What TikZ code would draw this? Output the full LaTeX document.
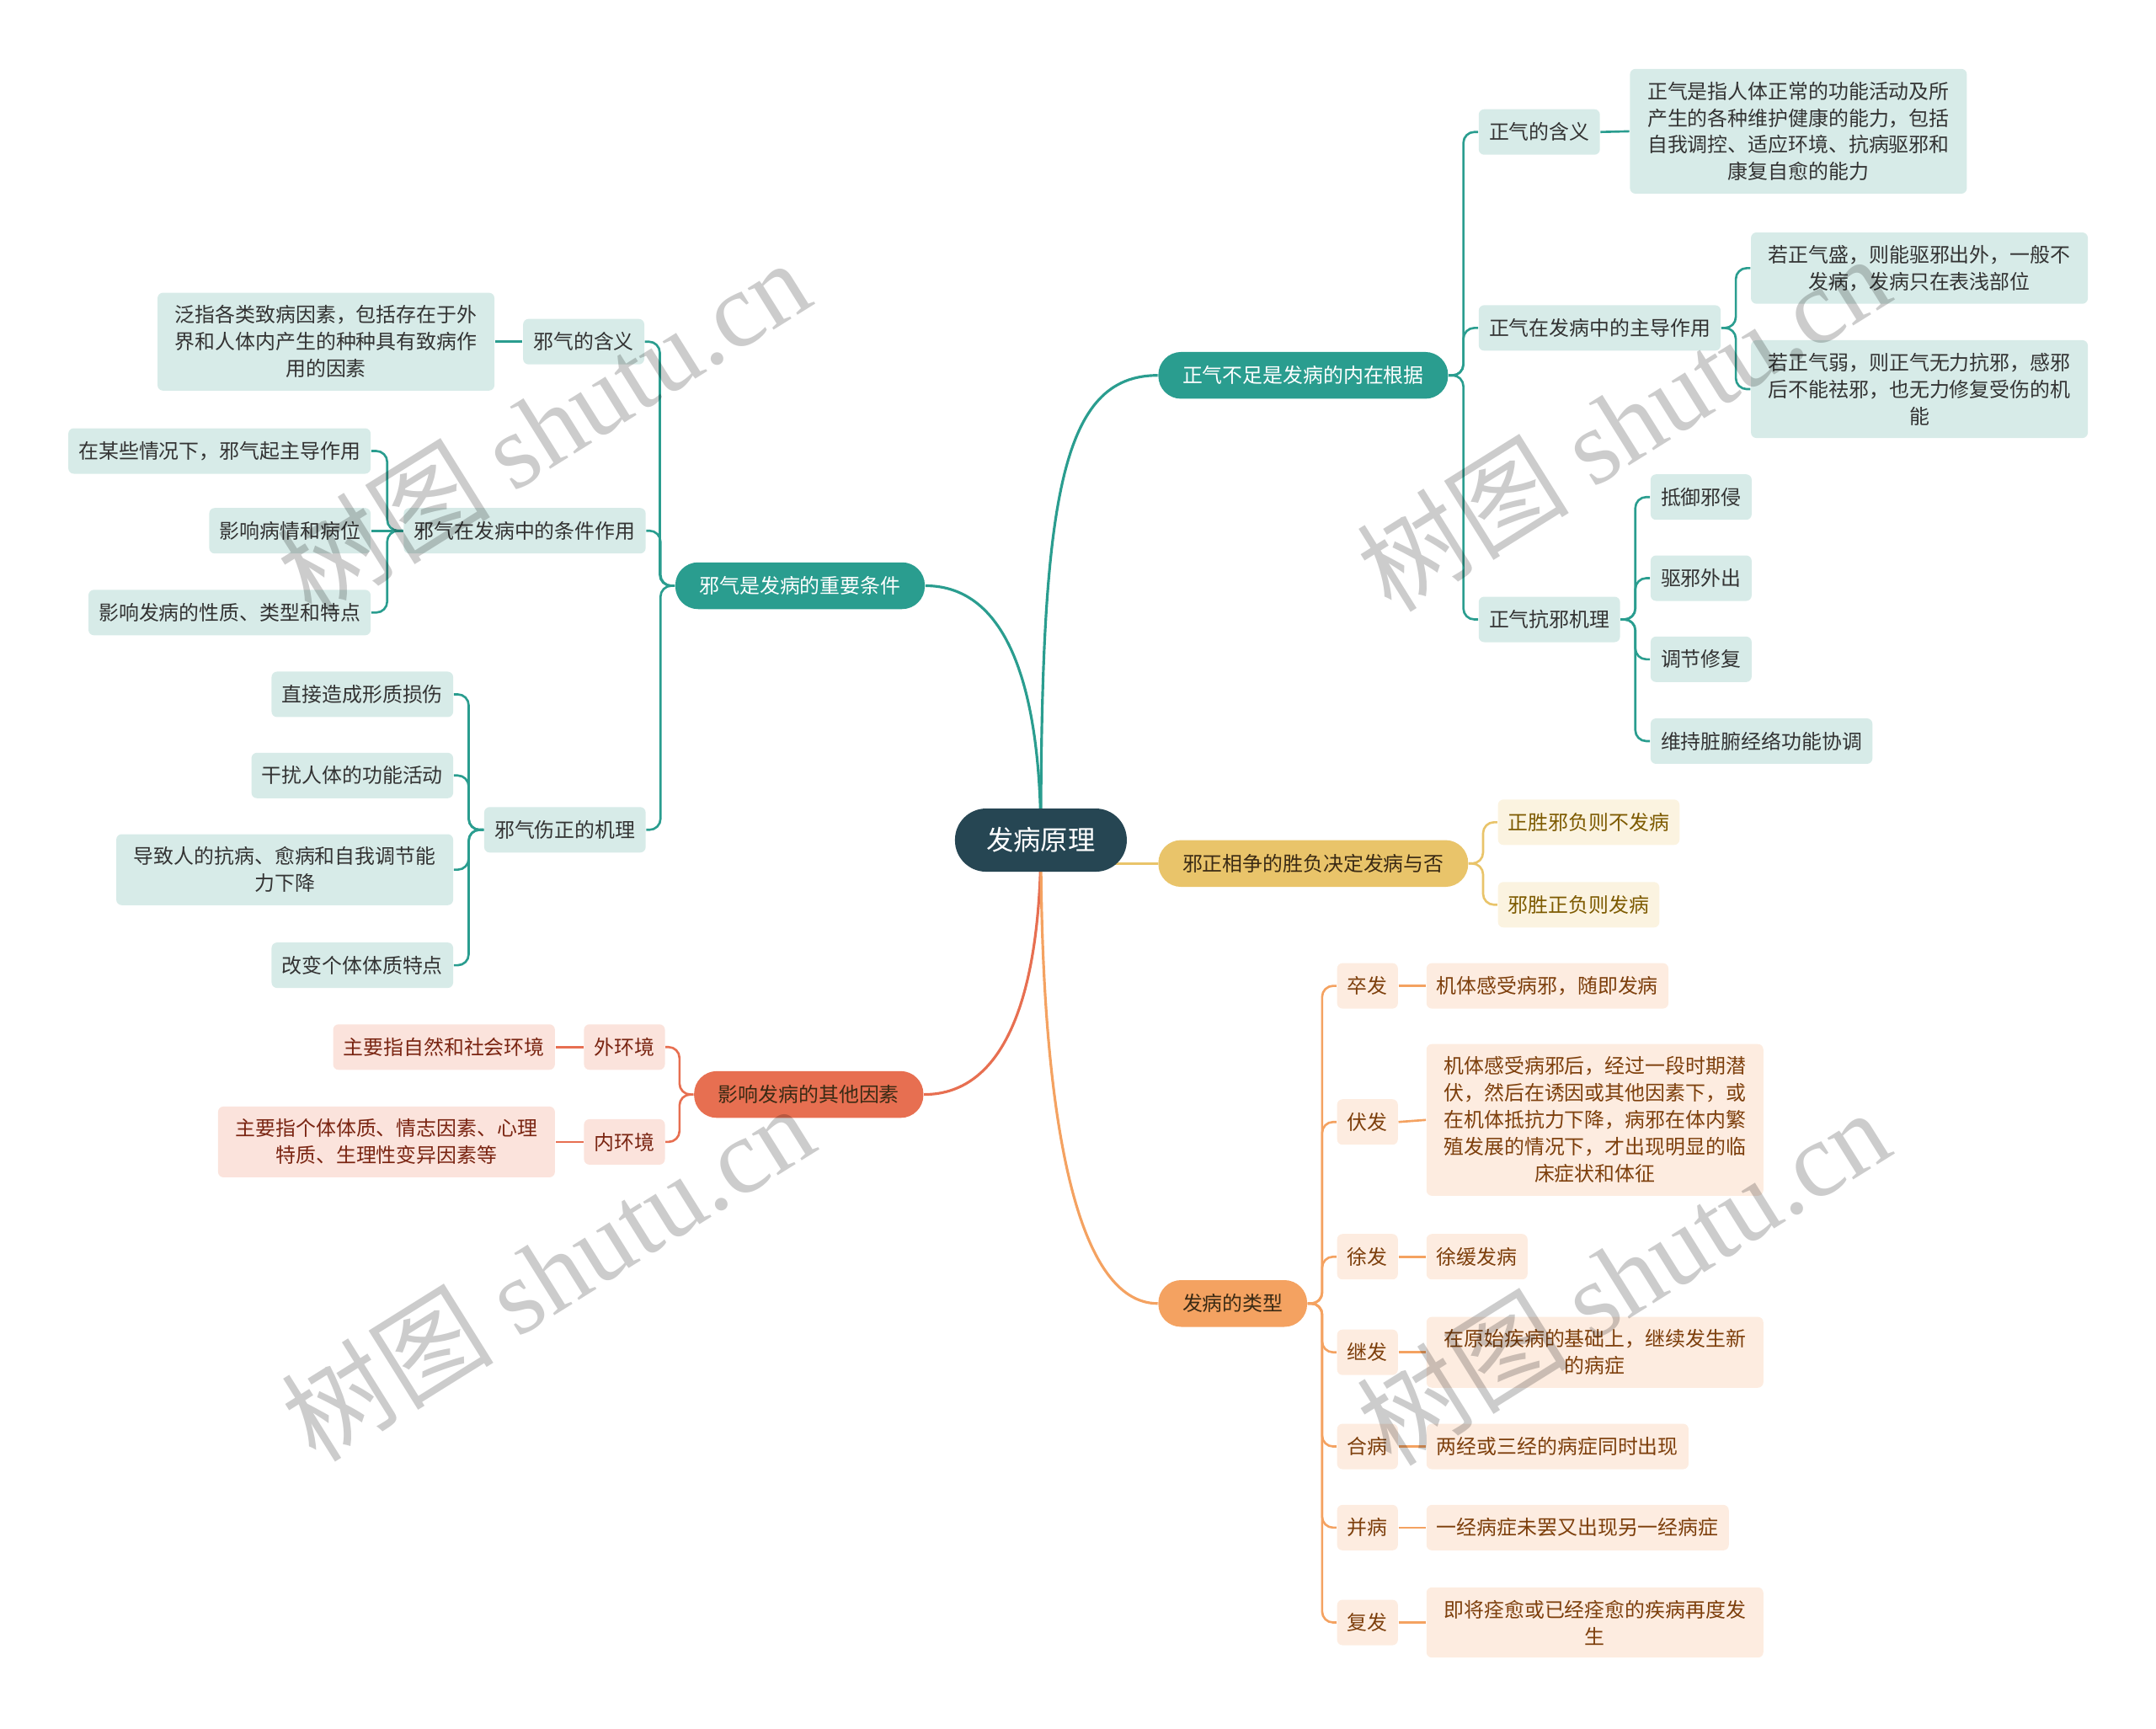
\documentclass[tikz,border=0pt]{standalone}
\usepackage{fontspec}
\setmainfont{Noto Sans CJK SC}
\newfontfamily\wmfont{Liberation Serif}
\usepackage{tikz}
\usetikzlibrary{positioning,calc,backgrounds}
\definecolor{rootc}{HTML}{264653}
\definecolor{tealc}{HTML}{2A9D8F}
\definecolor{tealsoft}{HTML}{D7EBE8}
\definecolor{yelc}{HTML}{E9C46A}
\definecolor{yelsoft}{HTML}{FBF3E0}
\definecolor{yeltext}{HTML}{7D5A00}
\definecolor{orac}{HTML}{F4A261}
\definecolor{orasoft}{HTML}{FDECE0}
\definecolor{oratext}{HTML}{7D3F0C}
\definecolor{redc}{HTML}{E76F51}
\definecolor{redsoft}{HTML}{FBE3DC}
\definecolor{redtext}{HTML}{7A2512}
\definecolor{darktext}{HTML}{3A2A14}

\begin{document}
\begin{tikzpicture}[
  x=0.016327cm, y=-0.016327cm,
  every node/.style={font=\fontsize{6.8}{9.1}\selectfont, align=center},
  rootbox/.style={fill=rootc, text=white, rounded corners=0.37cm, minimum height=0.75cm,
                  minimum width=2.04cm, font=\fontsize{9.2}{11}\selectfont},
  mainbox/.style={rounded corners=0.27cm, minimum height=0.555cm, inner xsep=0.286cm},
  subbox/.style={rounded corners=0.065cm, minimum height=0.54cm, inner xsep=0.122cm, inner ysep=0.15cm},
  widebox/.style={subbox, minimum width=4cm},
  tealsub/.style={fill=tealsoft, text=black!80},
  yelsub/.style={fill=yelsoft, text=yeltext},
  orasub/.style={fill=orasoft, text=oratext},
  redsub/.style={fill=redsoft, text=redtext},
  mainln/.style={line width=0.9pt},
  ln/.style={line width=0.75pt, rounded corners=0.13cm},
  wm/.style={text=black, opacity=0.2, rotate=32, font=\fontsize{36}{40}\selectfont}
]
\useasboundingbox (0,0) rectangle (1568,1257);

% root and main branches
\node[rootbox] (root) at (757,611) {发病原理};
\node[mainbox, fill=tealc, text=white, anchor=west] (b1) at (842,273) {正气不足是发病的内在根据};
\node[mainbox, fill=tealc, text=white, anchor=east] (b2) at (673,426) {邪气是发病的重要条件};
\node[mainbox, fill=yelc, text=darktext, anchor=west] (b3) at (842,628) {邪正相争的胜负决定发病与否};
\node[mainbox, fill=redc, text=darktext, anchor=east] (b4) at (672,796) {影响发病的其他因素};
\node[mainbox, fill=orac, text=darktext, anchor=west] (b5) at (842,948) {发病的类型};

% 正气
\node[subbox, tealsub, anchor=west] (s11) at (1075,96) {正气的含义};
\node[subbox, tealsub, anchor=west] (s12) at (1075,238.5) {正气在发病中的主导作用};
\node[subbox, tealsub, anchor=west] (s13) at (1075,450.5) {正气抗邪机理};
\node[widebox, tealsub, anchor=west] (l111) at (1185,95.5) {正气是指人体正常的功能活动及所\\产生的各种维护健康的能力，包括\\自我调控、适应环境、抗病驱邪和\\康复自愈的能力};
\node[widebox, tealsub, anchor=west] (l121) at (1273,195) {若正气盛，则能驱邪出外，一般不\\发病，发病只在表浅部位};
\node[widebox, tealsub, anchor=west] (l122) at (1273,283) {若正气弱，则正气无力抗邪，感邪\\后不能祛邪，也无力修复受伤的机\\能};
\node[subbox, tealsub, anchor=west] (l131) at (1200,361.5) {抵御邪侵};
\node[subbox, tealsub, anchor=west] (l132) at (1200,420.5) {驱邪外出};
\node[subbox, tealsub, anchor=west] (l133) at (1200,479.5) {调节修复};
\node[subbox, tealsub, anchor=west] (l134) at (1200,539) {维持脏腑经络功能协调};

% 邪气
\node[subbox, tealsub, anchor=east] (s21) at (469,248.5) {邪气的含义};
\node[subbox, tealsub, anchor=east] (s22) at (470,386) {邪气在发病中的条件作用};
\node[subbox, tealsub, anchor=east] (s23) at (470,603.5) {邪气伤正的机理};
\node[widebox, tealsub, anchor=east] (l211) at (360,248.5) {泛指各类致病因素，包括存在于外\\界和人体内产生的种种具有致病作\\用的因素};
\node[subbox, tealsub, anchor=east] (l221) at (270,328) {在某些情况下，邪气起主导作用};
\node[subbox, tealsub, anchor=east] (l222) at (270,386) {影响病情和病位};
\node[subbox, tealsub, anchor=east] (l223) at (270,445.5) {影响发病的性质、类型和特点};
\node[subbox, tealsub, anchor=east] (l231) at (330,505) {直接造成形质损伤};
\node[subbox, tealsub, anchor=east] (l232) at (330,564) {干扰人体的功能活动};
\node[widebox, tealsub, anchor=east] (l233) at (330,632.5) {导致人的抗病、愈病和自我调节能\\力下降};
\node[subbox, tealsub, anchor=east] (l234) at (330,702) {改变个体体质特点};

% 邪正相争
\node[subbox, yelsub, anchor=west] (s31) at (1089,598) {正胜邪负则不发病};
\node[subbox, yelsub, anchor=west] (s32) at (1089,658) {邪胜正负则发病};

% 其他因素
\node[subbox, redsub, anchor=east] (s41) at (484,761.5) {外环境};
\node[subbox, redsub, anchor=east] (s42) at (484,830.5) {内环境};
\node[subbox, redsub, anchor=east] (l411) at (404,761.5) {主要指自然和社会环境};
\node[widebox, redsub, anchor=east] (l421) at (404,830.5) {主要指个体体质、情志因素、心理\\特质、生理性变异因素等};

% 发病的类型
\node[subbox, orasub, anchor=west] (s51) at (972,717) {卒发};
\node[subbox, orasub, anchor=west] (s52) at (972,816) {伏发};
\node[subbox, orasub, anchor=west] (s53) at (972,914) {徐发};
\node[subbox, orasub, anchor=west] (s54) at (972,983.5) {继发};
\node[subbox, orasub, anchor=west] (s55) at (972,1052) {合病};
\node[subbox, orasub, anchor=west] (s56) at (972,1111) {并病};
\node[subbox, orasub, anchor=west] (s57) at (972,1180) {复发};
\node[subbox, orasub, anchor=west] (l51) at (1037,717) {机体感受病邪，随即发病};
\node[widebox, orasub, anchor=west] (l52) at (1037,814.5) {机体感受病邪后，经过一段时期潜\\伏，然后在诱因或其他因素下，或\\在机体抵抗力下降，病邪在体内繁\\殖发展的情况下，才出现明显的临\\床症状和体征};
\node[subbox, orasub, anchor=west] (l53) at (1037,914) {徐缓发病};
\node[widebox, orasub, anchor=west] (l54) at (1037,983.5) {在原始疾病的基础上，继续发生新\\的病症};
\node[subbox, orasub, anchor=west] (l55) at (1037,1052) {两经或三经的病症同时出现};
\node[subbox, orasub, anchor=west] (l56) at (1037,1111) {一经病症未罢又出现另一经病症};
\node[widebox, orasub, anchor=west] (l57) at (1037,1180) {即将痊愈或已经痊愈的疾病再度发\\生};

\begin{scope}[on background layer]
% root to main branches
\draw[mainln, tealc] (root.center) .. controls +(0,-250) and +(-70,0) .. (b1.west);
\draw[mainln, tealc] (root.center) .. controls +(0,-110) and +(60,0) .. (b2.east);
\draw[mainln, yelc] (root.center |- b3.west) -- (b3.west);
\draw[mainln, redc] (root.center) .. controls +(0,110) and +(60,0) .. (b4.east);
\draw[mainln, orac] (root.center) .. controls +(0,200) and +(-60,0) .. (b5.west);
% brackets to the right
\foreach \p/\c in {b1/s11,b1/s12,b1/s13,s12/l121,s12/l122,s13/l131,s13/l132,s13/l133,s13/l134}
  \draw[ln, tealc] (\p.east) -- ($(\p.east)!.5!(\p.east -| \c.west)$) |- (\c.west);
\foreach \c in {s31,s32}
  \draw[ln, yelc] (b3.east) -- ($(b3.east)!.5!(b3.east -| \c.west)$) |- (\c.west);
\foreach \c in {s51,s52,s53,s54,s55,s56,s57}
  \draw[ln, orac] (b5.east) -- ($(b5.east)!.5!(b5.east -| \c.west)$) |- (\c.west);
% brackets to the left
\foreach \p/\c in {b2/s21,b2/s22,b2/s23,s22/l221,s22/l223,s23/l231,s23/l232,s23/l233,s23/l234}
  \draw[ln, tealc] (\p.west) -- ($(\p.west)!.5!(\p.west -| \c.east)$) |- (\c.east);
\foreach \c in {s41,s42}
  \draw[ln, redc] (b4.west) -- ($(b4.west)!.5!(b4.west -| \c.east)$) |- (\c.east);
% straight links
\draw[ln, tealc] (s11.east) -- (l111.west);
\draw[ln, tealc] (s21.west) -- (l211.east);
\draw[ln, tealc] (s22.west) -- (l222.east);
\draw[ln, redc] (s41.west) -- (l411.east);
\draw[ln, redc] (s42.west) -- (l421.east);
\foreach \i in {1,...,7}
  \draw[ln, orac] (s5\i.east) -- (l5\i.west);
\end{scope}

% watermarks
\node[wm] (wm1) at (395,310) {树图 {\wmfont shutu.cn}};
\node[wm] (wm2) at (1180,307) {树图 {\wmfont shutu.cn}};
\node[wm] (wm3) at (398,925) {树图 {\wmfont shutu.cn}};
\node[wm] (wm4) at (1180,928) {树图 {\wmfont shutu.cn}};
\end{tikzpicture}
\end{document}
